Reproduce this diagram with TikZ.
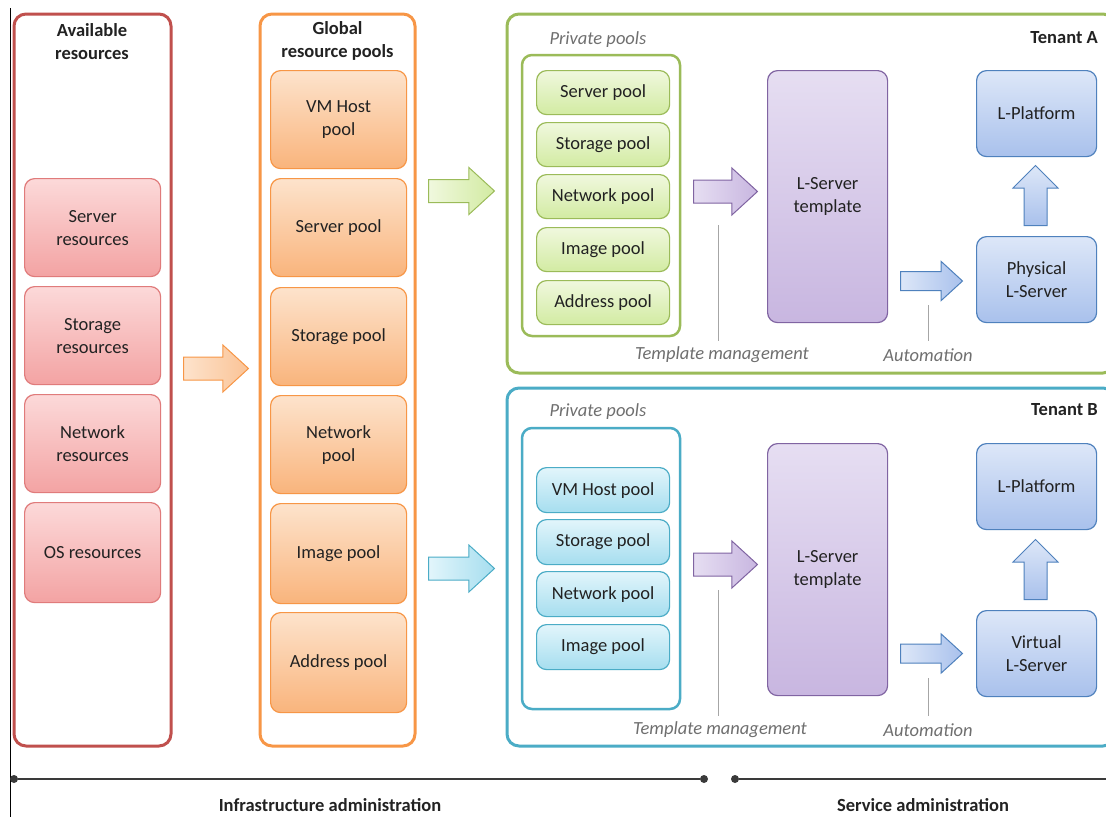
\documentclass[tikz,border=0pt]{standalone}
\usepackage{fontspec}
\setmainfont{Carlito}
\usetikzlibrary{shapes.arrows}
\definecolor{txt}{HTML}{222222}
\definecolor{redB}{HTML}{C0504D}
\definecolor{redI}{HTML}{E07B7B}
\definecolor{redT}{HTML}{FCD9D9}
\definecolor{redBo}{HTML}{F3A3A3}
\definecolor{orB}{HTML}{F79646}
\definecolor{orT}{HTML}{FDE3CC}
\definecolor{orBo}{HTML}{F9B47C}
\definecolor{grB}{HTML}{9BBB59}
\definecolor{grT}{HTML}{F0F8DE}
\definecolor{grBo}{HTML}{D2EBA2}
\definecolor{cyB}{HTML}{4BACC6}
\definecolor{cyT}{HTML}{E2F5FB}
\definecolor{cyBo}{HTML}{A6DEEF}
\definecolor{puB}{HTML}{8064A2}
\definecolor{puT}{HTML}{E6DEF2}
\definecolor{puBo}{HTML}{C8B6E0}
\definecolor{blB}{HTML}{4F81BD}
\definecolor{blT}{HTML}{DDE7F8}
\definecolor{blBo}{HTML}{A9C1EC}
\definecolor{grayline}{HTML}{A6A6A6}
\definecolor{graytxt}{HTML}{6F6F6F}
\definecolor{tl}{HTML}{3A3A3A}
\tikzset{
  fnt/.style={font=\fontsize{18.5}{23}\selectfont},
  outerbox/.style={draw, line width=3pt, rounded corners=12pt, fill=white},
  innerbox/.style={draw, line width=2.5pt, rounded corners=10pt, fill=white},
  item/.style={draw, line width=1.2pt, rounded corners=10pt, anchor=north west,
    align=center, fnt, text=txt, inner sep=0pt},
  reditem/.style={item, draw=redI, top color=redT, bottom color=redBo},
  oritem/.style={item, draw=orB, top color=orT, bottom color=orBo},
  gritem/.style={item, draw=grB, top color=grT, bottom color=grBo},
  cyitem/.style={item, draw=cyB, top color=cyT, bottom color=cyBo},
  puitem/.style={item, draw=puB, top color=puT, bottom color=puBo},
  blitem/.style={item, draw=blB, top color=blT, bottom color=blBo},
  title/.style={font=\fontsize{18.5}{23}\selectfont\bfseries, text=txt, align=center, inner sep=0pt},
  ital/.style={font=\fontsize{18.5}{23}\selectfont\itshape, text=graytxt, inner sep=0pt},
  bigarrow/.style={single arrow, anchor=tail, inner sep=11pt, single arrow head extend=12pt,
    single arrow tip angle=85, line width=1pt},
  orarrow/.style={bigarrow, draw=orB, left color=orT, right color=orBo!80},
  grarrow/.style={bigarrow, draw=grB, left color=grT, right color=grBo},
  cyarrow/.style={bigarrow, draw=cyB, left color=cyT, right color=cyBo},
  puarrow/.style={bigarrow, draw=puB, left color=puT, right color=puBo},
  blarrow/.style={single arrow, anchor=tail, inner sep=9pt, single arrow head extend=10pt,
    single arrow tip angle=85, line width=1pt, draw=blB, left color=blT, right color=blBo},
  uparrow/.style={single arrow, anchor=tail, inner sep=11pt, single arrow head extend=11pt,
    single arrow tip angle=90, line width=1pt, draw=blB, bottom color=blBo, top color=blT,
    shape border rotate=90},
  gline/.style={draw=grayline, line width=1pt},
  dot/.style={circle, fill=tl, inner sep=0pt, minimum size=8pt},
}
\begin{document}
\begin{tikzpicture}[x=1pt, y=-1pt]
\useasboundingbox (0,0) rectangle (1106,817);
% left border line
\draw[line width=1pt] (10,8) -- (10,817);

% ---------- Available resources ----------
\draw[outerbox, draw=redB] (14,14) rectangle (171,746);
\node[title] (avt) at (92,42) {Available\\resources};
\node[reditem, minimum width=136pt, minimum height=98pt] (sr) at (24,178) {Server\\resources};
\node[reditem, minimum width=136pt, minimum height=98pt] (str) at (24,286) {Storage\\resources};
\node[reditem, minimum width=136pt, minimum height=98pt] (nr) at (24,394) {Network\\resources};
\node[reditem, minimum width=136pt, minimum height=100pt] (osr) at (24,502) {OS resources};

\node[orarrow, minimum height=65pt] (a1) at (183,368.5) {};

% ---------- Global resource pools ----------
\draw[outerbox, draw=orB] (260,14) rectangle (415,746);
\node[title] (gt) at (337.5,41) {Global\\resource pools};
\node[oritem, minimum width=136pt, minimum height=98pt] (gvm) at (270,70) {VM Host\\pool};
\node[oritem, minimum width=136pt, minimum height=98pt] (gsp) at (270,178) {Server pool};
\node[oritem, minimum width=136pt, minimum height=98pt] (gst) at (270,287) {Storage pool};
\node[oritem, minimum width=136pt, minimum height=98pt] (gnp) at (270,395) {Network\\pool};
\node[oritem, minimum width=136pt, minimum height=100pt] (gip) at (270,503) {Image pool};
\node[oritem, minimum width=136pt, minimum height=100pt] (gap) at (270,612) {Address pool};

\node[grarrow, minimum height=66pt] (a2) at (428,191) {};
\node[cyarrow, minimum height=66pt] (a3) at (428,568.5) {};

% ---------- Tenant A ----------
\draw[outerbox, draw=grB] (507,14) rectangle (1115,373);
\node[title, anchor=east] (ta) at (1098,38) {Tenant A};
\node[ital] (ppa) at (598,40) {Private pools};
\draw[innerbox, draw=grB] (522,55) rectangle (680,336);
\node[gritem, minimum width=133pt, minimum height=44pt] (asp) at (536,70) {Server pool};
\node[gritem, minimum width=133pt, minimum height=44pt] (ast) at (536,122) {Storage pool};
\node[gritem, minimum width=133pt, minimum height=44pt] (anp) at (536,174) {Network pool};
\node[gritem, minimum width=133pt, minimum height=44pt] (aip) at (536,227) {Image pool};
\node[gritem, minimum width=133pt, minimum height=44pt] (aap) at (536,280) {Address pool};
\node[puarrow, minimum height=64pt] (pa) at (693,191.5) {};
\node[puitem, minimum width=120pt, minimum height=252pt] (lta) at (767,70) {L-Server\\template};
\node[blarrow, minimum height=62pt] (ba) at (900,281) {};
\node[blitem, minimum width=120pt, minimum height=86pt] (lpa) at (976,70) {L-Platform};
\node[uparrow, minimum height=60pt] (ua) at (1035.5,226) {};
\node[blitem, minimum width=120pt, minimum height=86pt] (phy) at (976,236) {Physical\\L-Server};
\node[ital] (tma) at (722,355) {Template management};
\node[ital] (aua) at (928,355) {Automation};
\draw[gline] (718,225) -- (718,341);
\draw[gline] (928,305) -- (928,341);

% ---------- Tenant B ----------
\draw[outerbox, draw=cyB] (507,388) rectangle (1115,746);
\node[title, anchor=east] (tb) at (1098,410) {Tenant B};
\node[ital] (ppb) at (598,412) {Private pools};
\draw[innerbox, draw=cyB] (522,428) rectangle (680,709);
\node[cyitem, minimum width=133pt, minimum height=45pt] (bvm) at (536,467) {VM Host pool};
\node[cyitem, minimum width=133pt, minimum height=45pt] (bst) at (536,519) {Storage pool};
\node[cyitem, minimum width=133pt, minimum height=45pt] (bnp) at (536,571) {Network pool};
\node[cyitem, minimum width=133pt, minimum height=45pt] (bip) at (536,624) {Image pool};
\node[puarrow, minimum height=64pt] (pb) at (693,564.5) {};
\node[puitem, minimum width=120pt, minimum height=252pt] (ltb) at (767,443) {L-Server\\template};
\node[blarrow, minimum height=62pt] (bb) at (900,653.5) {};
\node[blitem, minimum width=120pt, minimum height=86pt] (lpb) at (976,443) {L-Platform};
\node[uparrow, minimum height=60pt] (ub) at (1035.5,600) {};
\node[blitem, minimum width=120pt, minimum height=86pt] (vir) at (976,610) {Virtual\\L-Server};
\node[ital] (tmb) at (720,730) {Template management};
\node[ital] (aub) at (928,730) {Automation};
\draw[gline] (718,590) -- (718,716);
\draw[gline] (928,678) -- (928,716);

% ---------- timeline ----------
\node[dot] (d1) at (14,779) {};
\node[dot] (d2) at (704,779) {};
\node[dot] (d3) at (735,779) {};
\coordinate (d4) at (1106,779);
\draw[tl, line width=2pt] (d1) -- (d2);
\draw[tl, line width=2pt] (d3) -- (d4);
\node[title] (ia) at (330,805) {Infrastructure administration};
\node[title] (sa) at (923,805) {Service administration};
\end{tikzpicture}
\end{document}
